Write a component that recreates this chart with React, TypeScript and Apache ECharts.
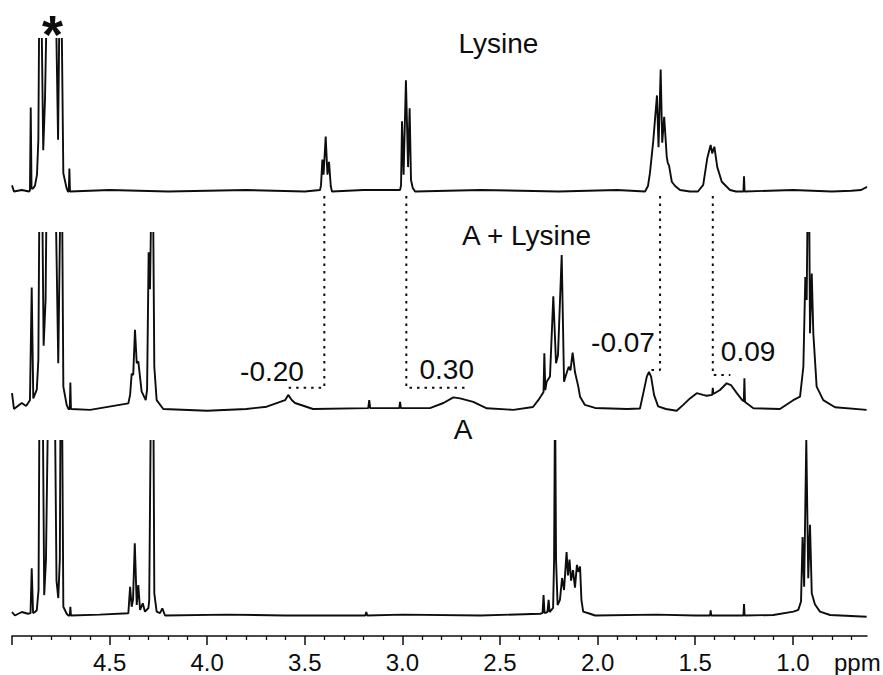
import React, { useEffect, useRef } from "react";
import * as echarts from "echarts";

// ---- axis (chemical shift, ppm) ----
const X_MIN = 0.62;
const X_MAX = 5.0;
const majorTicks = [5.0, 4.5, 4.0, 3.5, 3.0, 2.5, 2.0, 1.5, 1.0];
const tickLabels = [4.5, 4.0, 3.5, 3.0, 2.5, 2.0, 1.5, 1.0];
const minorTicks = [4.9, 4.8, 4.7, 4.6, 4.4, 4.3, 4.2, 4.1, 3.9, 3.8, 3.7, 3.6, 3.4, 3.3, 3.2, 3.1, 2.9, 2.8, 2.7, 2.6, 2.4, 2.3, 2.2, 2.1, 1.9, 1.8, 1.7, 1.6, 1.4, 1.3, 1.2, 1.1, 0.9, 0.8, 0.7];

// ---- spectra: [ppm, intensity] (0 = baseline, 100 = top of panel, higher = off scale) ----
const lysineSpectrum = [
  [5.0, 4], [4.99, 0], [4.95, 1], [4.912, 0], [4.908, 1], [4.904, 55], [4.9, 2], [4.892, 2], [4.882, 4], [4.872, 11], [4.865, 34],
  [4.86, 130], [4.85, 130], [4.84, 27], [4.831, 60], [4.821, 130], [4.8, 200], [4.776, 130], [4.764, 34], [4.756, 130], [4.747, 130],
  [4.737, 12], [4.72, 2], [4.713, 0], [4.709, 0], [4.706, 15], [4.703, 0], [4.5, 1], [4.2, 0], [3.8, 1], [3.5, 0],
  [3.422, 1], [3.417, 4], [3.41, 21], [3.404, 11], [3.393, 36], [3.384, 11], [3.376, 19.5], [3.367, 3.6], [3.361, 0],
  [3.2, 1], [3.012, 1], [3.007, 4], [3.002, 46], [2.994, 11], [2.982, 73], [2.971, 16], [2.963, 54.5], [2.956, 7.5], [2.947, 2.3], [2.935, 0],
  [2.6, 1], [2.2, 0], [1.9, 1], [1.757, 0], [1.742, 3.6], [1.732, 12], [1.715, 33], [1.696, 63], [1.688, 29], [1.677, 80], [1.669, 32],
  [1.659, 49], [1.646, 23], [1.641, 19], [1.634, 17], [1.62, 6.4], [1.603, 3.6], [1.578, 1], [1.527, 0],
  [1.486, 0], [1.459, 4.3], [1.438, 22], [1.421, 30.5], [1.413, 25], [1.402, 29.4], [1.387, 16], [1.364, 6.4], [1.322, 1], [1.291, 0],
  [1.253, 0], [1.25, 10], [1.247, 0], [1.0, 1], [0.8, 0], [0.7, 0.5], [0.65, 1], [0.62, 3],
];

const complexSpectrum = [
  [5.0, 9], [4.99, 0], [4.95, 3.4], [4.928, 1.7], [4.908, 5], [4.899, 69], [4.891, 6], [4.873, 11], [4.865, 28], [4.859, 130],
  [4.846, 130], [4.838, 36], [4.828, 62], [4.822, 130], [4.8, 200], [4.778, 130], [4.763, 26], [4.751, 130], [4.744, 130],
  [4.737, 12.7], [4.72, 2.3], [4.711, 0], [4.704, 0], [4.701, 15], [4.698, 0], [4.6, -0.5],
  [4.404, 3.2], [4.395, 8], [4.387, 20], [4.379, 19.3], [4.37, 45], [4.361, 26], [4.353, 27], [4.336, 10], [4.315, 5], [4.308, 11],
  [4.3, 89], [4.293, 68], [4.285, 130], [4.278, 130], [4.271, 24], [4.259, 5], [4.225, 0],
  [4.0, -1], [3.8, 0], [3.695, 1.3], [3.601, 5], [3.585, 8], [3.566, 5], [3.55, 3.4], [3.458, 0],
  [3.175, 0.5], [3.17, 5], [3.165, 0.5], [3.016, 0.5], [3.012, 4], [3.008, 0.5],
  [2.859, 0.5], [2.79, 3.4], [2.739, 6.6], [2.705, 6], [2.637, 4], [2.568, 0.4], [2.432, -0.5], [2.331, 1.1],
  [2.304, 5], [2.29, 7.4], [2.277, 9.7], [2.273, 31.6], [2.268, 10.8], [2.261, 15.5], [2.244, 18.4], [2.227, 64], [2.213, 26],
  [2.203, 30.7], [2.184, 87.5], [2.172, 15.5], [2.162, 19.3], [2.148, 24], [2.139, 22], [2.128, 32], [2.116, 21], [2.099, 12.7],
  [2.09, 7], [2.065, 2.3], [2.013, 0.6], [1.85, 0],
  [1.783, 0.3], [1.766, 9], [1.748, 18.4], [1.737, 21], [1.726, 18.4], [1.711, 8], [1.69, 1.5], [1.65, 0], [1.595, -1], [1.56, 2.5],
  [1.527, 6], [1.492, 9], [1.46, 8], [1.441, 7.5], [1.413, 8], [1.41, 12], [1.407, 8.5], [1.373, 10.8], [1.339, 14.6], [1.317, 13.6],
  [1.287, 9], [1.259, 5], [1.251, 4.5], [1.248, 17.4], [1.245, 4], [1.236, 3.2], [1.202, 0.4], [1.066, 0],
  [0.998, 5], [0.963, 7], [0.946, 24], [0.936, 75], [0.929, 62], [0.923, 130], [0.917, 130], [0.912, 43], [0.903, 77], [0.895, 43],
  [0.878, 12.7], [0.844, 5], [0.784, 1], [0.622, -0.5],
];

const aSpectrum = [
  [5.0, 2], [4.985, 0], [4.95, 2], [4.918, 1], [4.905, 1.4], [4.899, 27], [4.892, 1.4], [4.882, 2], [4.873, 3], [4.864, 14.6],
  [4.859, 130], [4.843, 130], [4.835, 11.7], [4.826, 32], [4.814, 130], [4.8, 200], [4.781, 130], [4.772, 20], [4.763, 10], [4.755, 32],
  [4.751, 130], [4.744, 130], [4.737, 5], [4.72, 1], [4.711, 0], [4.704, 0], [4.701, 5], [4.698, 0], [4.55, 0.5],
  [4.404, 1.3], [4.395, 16.5], [4.387, 5], [4.38, 9], [4.371, 41.4], [4.361, 6], [4.353, 17.5], [4.344, 3.2], [4.33, 7], [4.319, 2.2],
  [4.301, 4.3], [4.297, 9], [4.288, 130], [4.276, 130], [4.271, 12.7], [4.259, 2.2], [4.242, 1.4], [4.23, 4.1], [4.216, 0],
  [3.9, 0.5], [3.6, 0], [3.19, 0], [3.185, 2], [3.18, 0], [3.0, 0.5], [2.6, 0],
  [2.295, 1], [2.282, 1.4], [2.277, 11.7], [2.272, 1.4], [2.257, 2], [2.251, 9], [2.246, 2], [2.228, 4.3], [2.223, 32], [2.218, 130],
  [2.213, 32], [2.205, 6], [2.193, 9], [2.182, 21.5], [2.172, 14.6], [2.159, 36.4], [2.152, 23], [2.144, 32], [2.136, 20], [2.126, 26],
  [2.116, 16], [2.106, 29], [2.098, 25], [2.09, 28], [2.083, 9], [2.074, 2.2], [2.039, 1], [2.013, 0],
  [1.7, 0.5], [1.5, 0], [1.424, 0], [1.421, 3], [1.418, 0], [1.253, 0], [1.25, 6.6], [1.247, 0], [1.1, 0.3],
  [0.997, 2.2], [0.972, 3.2], [0.958, 8], [0.95, 45], [0.942, 16.5], [0.931, 101], [0.921, 21.3], [0.912, 52], [0.903, 12.7],
  [0.887, 6.4], [0.861, 2.2], [0.809, 0.3], [0.622, -0.7],
];

// ---- shift annotations (lysine peak -> complex peak) ----
const lysinePeaks = [3.4, 2.98, 1.68, 1.41];
const complexPeaks = [3.6, 2.68, 1.75, 1.32];
const shiftLevels = [12, 12, 22.2, 19.3]; // intensity level of horizontal connector in middle panel
const shiftTexts = ["-0.20", "0.30", "-0.07", "0.09"];
const shiftTextPpm = [3.668, 2.773, 1.87, 1.229];
const shiftTextLevel = [21.3, 22.2, 37.5, 32.4];
const connectorTop = 121; // middle-panel intensity where dotted verticals start (just under lysine trace)

const INK = "#0d0d0d";
const FONT = '"Liberation Sans", Arial, Helvetica, sans-serif';

export default function App() {
  const ref = useRef<HTMLDivElement>(null);

  useEffect(() => {
    if (!ref.current) return;
    const chart = echarts.init(ref.current, undefined, { renderer: "svg" });

    const hiddenX = (gi: number) => ({
      gridIndex: gi, type: "value", min: X_MIN, max: X_MAX, inverse: true, show: false,
    });

    const traceStyle = { color: INK, width: 1.9 };

    const connectorSeries = lysinePeaks.map((lp, i) => ({
      type: "line",
      xAxisIndex: 1,
      yAxisIndex: 1,
      clip: false,
      showSymbol: false,
      symbol: "none",
      silent: true,
      lineStyle: { color: INK, width: 2, type: [2.5, 5] },
      data: [
        [lp, connectorTop],
        [lp, shiftLevels[i]],
        [complexPeaks[i], shiftLevels[i]],
      ],
      z: 3,
    }));

    const option: any = {
      animation: false,
      backgroundColor: "#ffffff",
      grid: [
        { left: 12, right: 16, top: 39, height: 170.8 },
        { left: 12, right: 16, top: 233, height: 197.1 },
        { left: 12, right: 16, top: 441, height: 195 },
      ],
      xAxis: [
        hiddenX(0),
        hiddenX(1),
        {
          gridIndex: 2, type: "value", min: X_MIN, max: X_MAX, inverse: true, position: "bottom",
          axisLine: { show: true, onZero: false, lineStyle: { color: INK, width: 1.5 } },
          axisTick: { show: true, customValues: majorTicks, length: 9, lineStyle: { color: INK, width: 1.5 } },
          axisLabel: {
            show: true, customValues: tickLabels, formatter: (v: number) => Number(v).toFixed(1),
            fontSize: 24, color: INK, fontFamily: FONT, margin: 14,
          },
          splitLine: { show: false },
        },
        {
          gridIndex: 2, type: "value", min: X_MIN, max: X_MAX, inverse: true, position: "bottom",
          axisLine: { show: false, onZero: false },
          axisTick: { show: true, customValues: minorTicks, length: 4, lineStyle: { color: INK, width: 1.3 } },
          axisLabel: { show: false },
          splitLine: { show: false },
        },
      ],
      yAxis: [
        { gridIndex: 0, type: "value", min: -12, max: 100, show: false },
        { gridIndex: 1, type: "value", min: -12, max: 100, show: false },
        { gridIndex: 2, type: "value", min: -11.75, max: 100, show: false },
      ],
      series: [
        { type: "line", name: "Lysine", xAxisIndex: 0, yAxisIndex: 0, data: lysineSpectrum, showSymbol: false, symbol: "none", lineStyle: traceStyle, clip: true },
        { type: "line", name: "A + Lysine", xAxisIndex: 1, yAxisIndex: 1, data: complexSpectrum, showSymbol: false, symbol: "none", lineStyle: traceStyle, clip: true },
        { type: "line", name: "A", xAxisIndex: 2, yAxisIndex: 2, data: aSpectrum, showSymbol: false, symbol: "none", lineStyle: traceStyle, clip: true },
        ...connectorSeries,
        {
          type: "scatter", xAxisIndex: 1, yAxisIndex: 1, symbolSize: 1, clip: false, silent: true,
          itemStyle: { color: "rgba(0,0,0,0)", opacity: 1 },
          label: {
            show: true, position: "inside", formatter: (p: any) => p.name, fontSize: 28, color: INK,
            fontFamily: FONT, opacity: 1, textBorderWidth: 0,
          },
          data: shiftTexts.map((t, i) => ({ name: t, value: [shiftTextPpm[i], shiftTextLevel[i]] })),
        },
      ],
      graphic: [
        { type: "text", x: 498.5, y: 43.2, style: { text: "Lysine", fontSize: 28, fontFamily: FONT, fill: INK, align: "center", verticalAlign: "middle" } },
        { type: "text", x: 526.5, y: 235.2, style: { text: "A + Lysine", fontSize: 28, fontFamily: FONT, fill: INK, align: "center", verticalAlign: "middle" } },
        { type: "text", x: 463, y: 429.2, style: { text: "A", fontSize: 28, fontFamily: FONT, fill: INK, align: "center", verticalAlign: "middle" } },
        { type: "text", x: 52.5, y: 33.6, style: { text: "*", fontSize: 54, fontWeight: "bold", fontFamily: FONT, fill: INK, align: "center", verticalAlign: "middle" } },
        { type: "text", x: 834, y: 662.3, style: { text: "ppm", fontSize: 24, fontFamily: FONT, fill: INK, align: "left", verticalAlign: "middle" } },
      ],
    };

    chart.setOption(option);
    return () => chart.dispose();
  }, []);

  return (
    <div
      ref={ref}
      style={{ position: "absolute", left: 0, top: 0, width: 883, height: 675, background: "#fff" }}
    />
  );
}
